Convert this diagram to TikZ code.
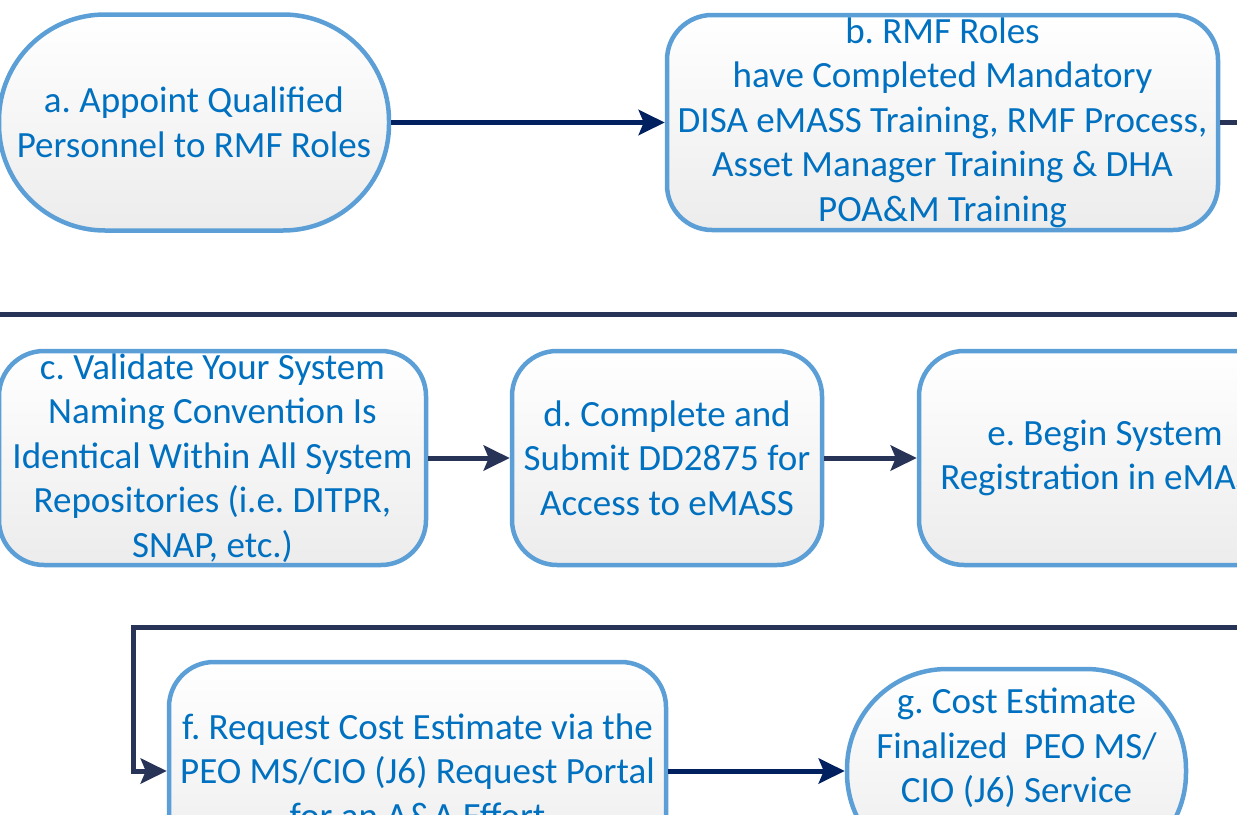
\documentclass[tikz,border=0pt]{standalone}
\usepackage{fontspec}
\setmainfont{Carlito}
\usetikzlibrary{arrows.meta}
\definecolor{boxline}{RGB}{91,159,214}
\definecolor{txt}{RGB}{0,112,192}
\definecolor{navy}{RGB}{0,32,96}
\definecolor{slate}{RGB}{40,51,88}
\definecolor{boxbot}{RGB}{236,236,236}
\begin{document}
\frenchspacing
\begin{tikzpicture}[x=1pt,y=-1pt,
  box/.style={draw=boxline, line width=4.5pt, top color=white, bottom color=boxbot,
    rounded corners=45pt, inner sep=0pt, shape=rectangle},
  lbl/.style={text=txt, align=center, font=\fontsize{37}{44.5}\selectfont\frenchspacing, inner sep=0pt},
  tip/.style={-{Stealth[length=26pt,width=25pt,inset=5pt]}},
  navyline/.style={line width=5pt, draw=navy},
  slateline/.style={line width=5pt, draw=slate}]
\useasboundingbox (0,0) rectangle (1237,814);
\clip (0,0) rectangle (1237,814);
% boxes
\node[box, rounded corners=106pt, minimum width=390pt, minimum height=216pt] (a) at (194,122.5) {};
\node[box, minimum width=551pt, minimum height=215pt] (b) at (942.5,122.5) {};
\node[box, minimum width=427pt, minimum height=214pt] (c) at (212.5,458) {};
\node[box, minimum width=310pt, minimum height=214pt] (d) at (667,458) {};
\node[box, minimum width=372pt, minimum height=214pt] (e) at (1105,458) {};
\node[box, minimum width=497pt, minimum height=218pt] (f) at (417.5,771) {};
\node[box, rounded corners=100pt, minimum width=339pt, minimum height=204pt] (g) at (1016.5,771) {};
% labels
\node[lbl] (at) at (a) {a. Appoint Qualified\\Personnel to RMF Roles};
\node[lbl] (bt) at (b) {b. RMF Roles\\have Completed Mandatory\\DISA eMASS Training, RMF Process,\\Asset Manager Training \& DHA\\POA\&M Training};
\node[lbl] (ct) at (c) {c. Validate Your System\\Naming Convention Is\\Identical Within All System\\Repositories (i.e. DITPR,\\SNAP, etc.)};
\node[lbl] (dt) at (d) {d. Complete and\\Submit DD2875 for\\Access to eMASS};
\node[lbl] (et) at (e) {e. Begin System\\Registration in eMASS};
\node[lbl] (ft) at (f) {f. Request Cost Estimate via the\\PEO MS/CIO (J6) Request Portal\\for an A\&A Effort};
\node[lbl] (gt) at (1016.5,748) {g. Cost Estimate\\Finalized~ PEO MS/\\CIO (J6) Service};
% connector coordinates
\coordinate (bout) at (1245,122.5);
\coordinate (hl) at (-5,314);
\coordinate (hr) at (1245,314);
\coordinate (lr) at (1245,627);
\coordinate (lc) at (133,627);
% connectors
\draw[navyline, tip] (a.east) -- (b.west);
\draw[slateline] (b.east) -- (bout);
\draw[slateline] (hl) -- (hr);
\draw[slateline, tip] (c.east) -- (d.west);
\draw[slateline, tip] (d.east) -- (e.west);
\draw[slateline, tip] (lr) -- (lc) |- (f.west);
\draw[navyline, tip] (f.east) -- (g.west);
\end{tikzpicture}
\end{document}
